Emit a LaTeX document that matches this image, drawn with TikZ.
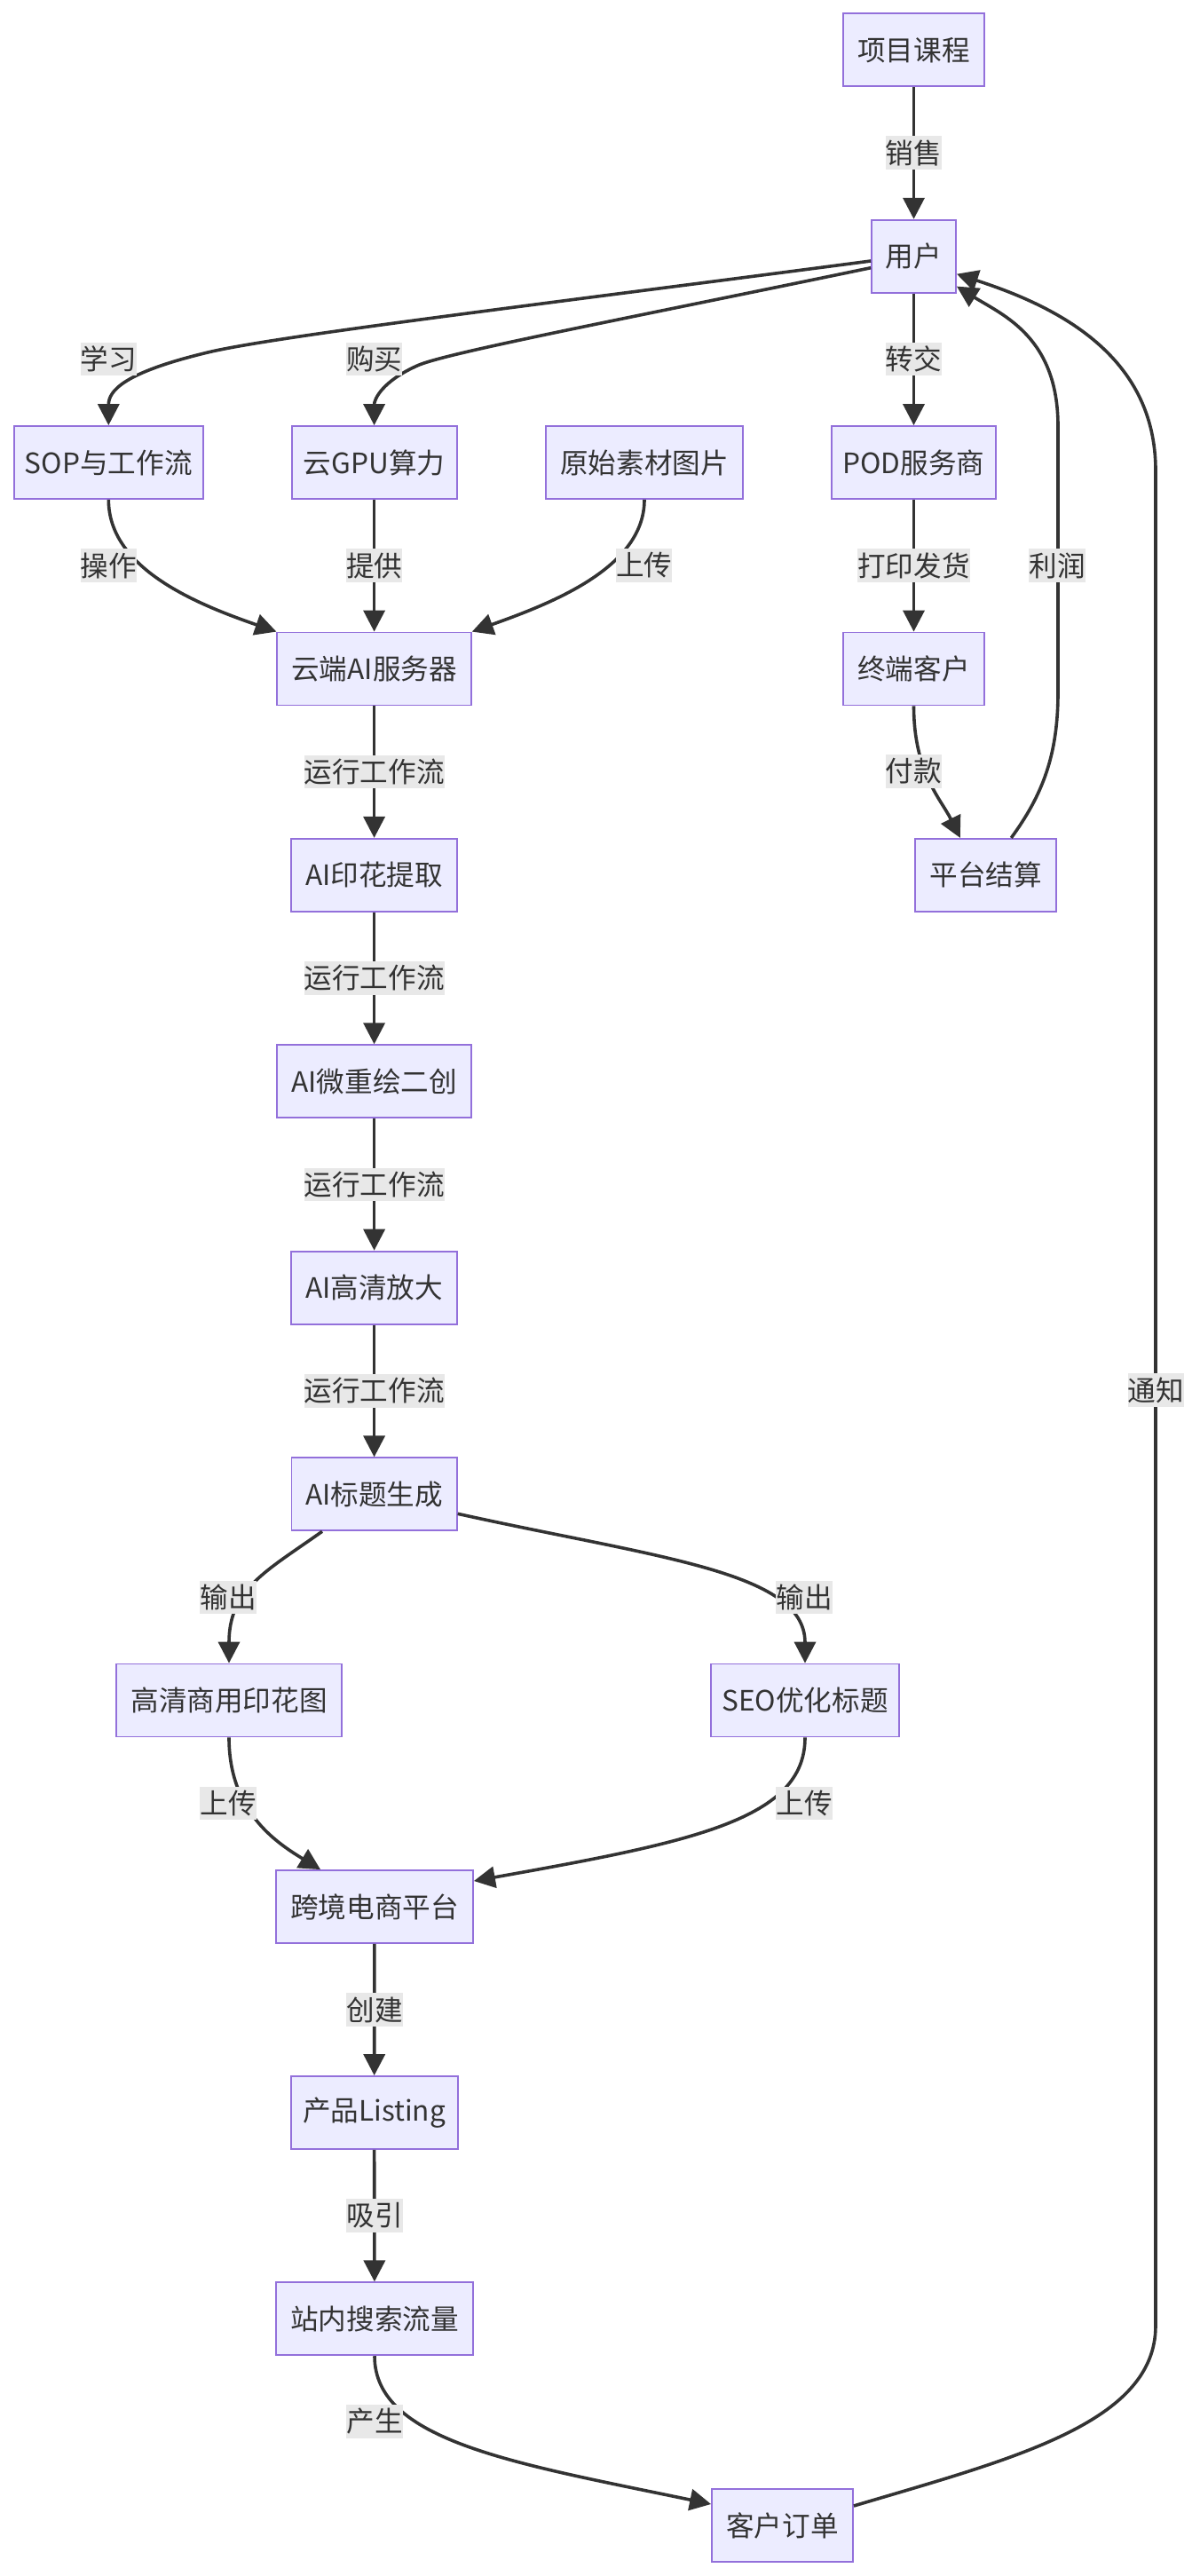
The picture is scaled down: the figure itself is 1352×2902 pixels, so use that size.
\documentclass[tikz,border=0pt]{standalone}
\usepackage{fontspec}
\newfontfamily\cjk{Noto Sans CJK SC}
\usetikzlibrary{arrows.meta,calc}
\definecolor{nodefill}{HTML}{ECECFF}
\definecolor{nodeline}{HTML}{9370DB}
\definecolor{edgecol}{HTML}{333333}
\definecolor{lblbg}{HTML}{E8E8E8}
\begin{document}
\begin{tikzpicture}[x=0.5pt,y=-0.5pt,
  box/.style={draw=nodeline, fill=nodefill, line width=0.9pt, minimum height=41pt, inner sep=0pt, text=edgecol, font=\cjk\fontsize{15.8}{19}\selectfont},
  lbl/.style={fill=lblbg, inner sep=0pt, minimum height=18.8pt, text=edgecol, font=\cjk\fontsize{15.8}{19}\selectfont},
  arr/.style={draw=edgecol, line width=1.8pt, -{Triangle[length=12pt,width=12pt]}}]
\fill[white] (0,0) rectangle (1352,2902);
\useasboundingbox (0,0) rectangle (1352,2902);

% nodes
\node[box,minimum width=79.5pt] (xm) at (1029.5,56.3) {项目课程};
\node[box,minimum width=47.5pt] (yh) at (1029.5,288.7) {用户};
\node[box,minimum width=106.7pt] (sop) at (122.3,521) {SOP与工作流};
\node[box,minimum width=93pt] (gpu) at (421.6,521) {云GPU算力};
\node[box,minimum width=111.3pt] (src) at (726,521) {原始素材图片};
\node[box,minimum width=92.3pt] (pod) at (1029.5,521) {POD服务商};
\node[box,minimum width=109.3pt] (srv) at (421.6,753.5) {云端AI服务器};
\node[box,minimum width=79.5pt] (cust) at (1029.5,753.5) {终端客户};
\node[box,minimum width=79.5pt] (pay) at (1110.8,985.8) {平台结算};
\node[box,minimum width=93.5pt] (ext) at (421.6,985.8) {AI印花提取};
\node[box,minimum width=109.3pt] (redraw) at (421.6,1218.2) {AI微重绘二创};
\node[box,minimum width=93.5pt] (upsc) at (421.6,1450.6) {AI高清放大};
\node[box,minimum width=93.2pt] (title) at (421.6,1683.3) {AI标题生成};
\node[box,minimum width=126.8pt] (hd) at (258,1915.5) {高清商用印花图};
\node[box,minimum width=106pt] (seo) at (907,1915.5) {SEO优化标题};
\node[box,minimum width=111pt] (plat) at (422,2148) {跨境电商平台};
\node[box,minimum width=94pt] (lst) at (421.6,2380) {产品Listing};
\node[box,minimum width=111pt] (traffic) at (422,2612.3) {站内搜索流量};
\node[box,minimum width=79.5pt] (order) at (881.5,2845) {客户订单};

% connectors
\draw[arr] (xm) -- (yh);
\draw[arr] ($(yh.west)+(0,5.3)$) .. controls (600,344) and (300,380) .. (230,398)
  .. controls (140,420) and (122.3,440) .. (sop.north);
\draw[arr] ($(yh.west)+(0,13)$) .. controls (700,360) and (500,398) .. (470,412)
  .. controls (430,430) and (421.6,450) .. (gpu.north);
\draw[arr] (yh) -- (pod);
\draw[arr] (sop.south) .. controls (122.3,640) and (220,680) .. (srv.north west);
\draw[arr] (gpu) -- (srv);
\draw[arr] (src.south) .. controls (726,640) and (620,680) .. (srv.north east);
\draw[arr] (pod) -- (cust);
\draw[arr] (cust.south) .. controls (1029.5,870) and (1060,900) .. ($(pay.north)+(-29,0)$);
\draw[arr] ($(pay.north)+(28.5,0)$) .. controls (1175,895) and (1192,850) .. (1192,780)
  -- (1192,480) .. controls (1192,380) and (1130,355) .. ($(yh.south east)+(0,-8)$);
\draw[arr] ($(order.east)+(0,-22)$) .. controls (1140,2770) and (1302,2730) .. (1302,2620)
  -- (1302,530) .. controls (1302,400) and (1190,345) .. ($(yh.east)+(0,20)$);
\draw[arr] (srv) -- (ext);
\draw[arr] (ext) -- (redraw);
\draw[arr] (redraw) -- (upsc);
\draw[arr] (upsc) -- (title);
\draw[arr] ($(title.south west)+(35.5,0)$) .. controls (300,1770) and (258,1790) .. (hd.north);
\draw[arr] ($(title.east)+(0,22)$) .. controls (740,1755) and (907,1770) .. (seo.north);
\draw[arr] (hd.south) .. controls (258,2040) and (310,2075) .. ($(plat.north west)+(51,0)$);
\draw[arr] (seo.south) .. controls (907,2050) and (780,2075) .. ($(plat.east)+(0,-29)$);
\draw[arr] (plat) -- (lst);
\draw[arr] (lst) -- (traffic);
\draw[arr] (traffic.south) .. controls (422,2750) and (580,2775) .. ($(order.west)+(0,-24)$);

% edge labels
\node[lbl] (l1) at (1029.5,172) {销售};
\node[lbl] (l2) at (122.3,404.5) {学习};
\node[lbl] (l3) at (421.6,404.5) {购买};
\node[lbl] (l4) at (1029.5,404.5) {转交};
\node[lbl] (l5) at (122.3,637) {操作};
\node[lbl] (l6) at (421.6,637) {提供};
\node[lbl] (l7) at (725.6,637) {上传};
\node[lbl] (l8) at (1029.5,637) {打印发货};
\node[lbl] (l9) at (1191,637) {利润};
\node[lbl] (l10) at (1029.4,869) {付款};
\node[lbl] (l11) at (421.6,869.6) {运行工作流};
\node[lbl] (l12) at (421.6,1102) {运行工作流};
\node[lbl] (l13) at (421.6,1334.4) {运行工作流};
\node[lbl] (l14) at (421.6,1566.8) {运行工作流};
\node[lbl] (l15) at (1302.5,1566) {通知};
\node[lbl] (l16) at (257,1799.3) {输出};
\node[lbl] (l17) at (906,1799.3) {输出};
\node[lbl] (l18) at (257,2031.6) {上传};
\node[lbl] (l19) at (906,2031.6) {上传};
\node[lbl] (l20) at (422,2264) {创建};
\node[lbl] (l21) at (422,2496) {吸引};
\node[lbl] (l22) at (422,2728) {产生};
\end{tikzpicture}
\end{document}
